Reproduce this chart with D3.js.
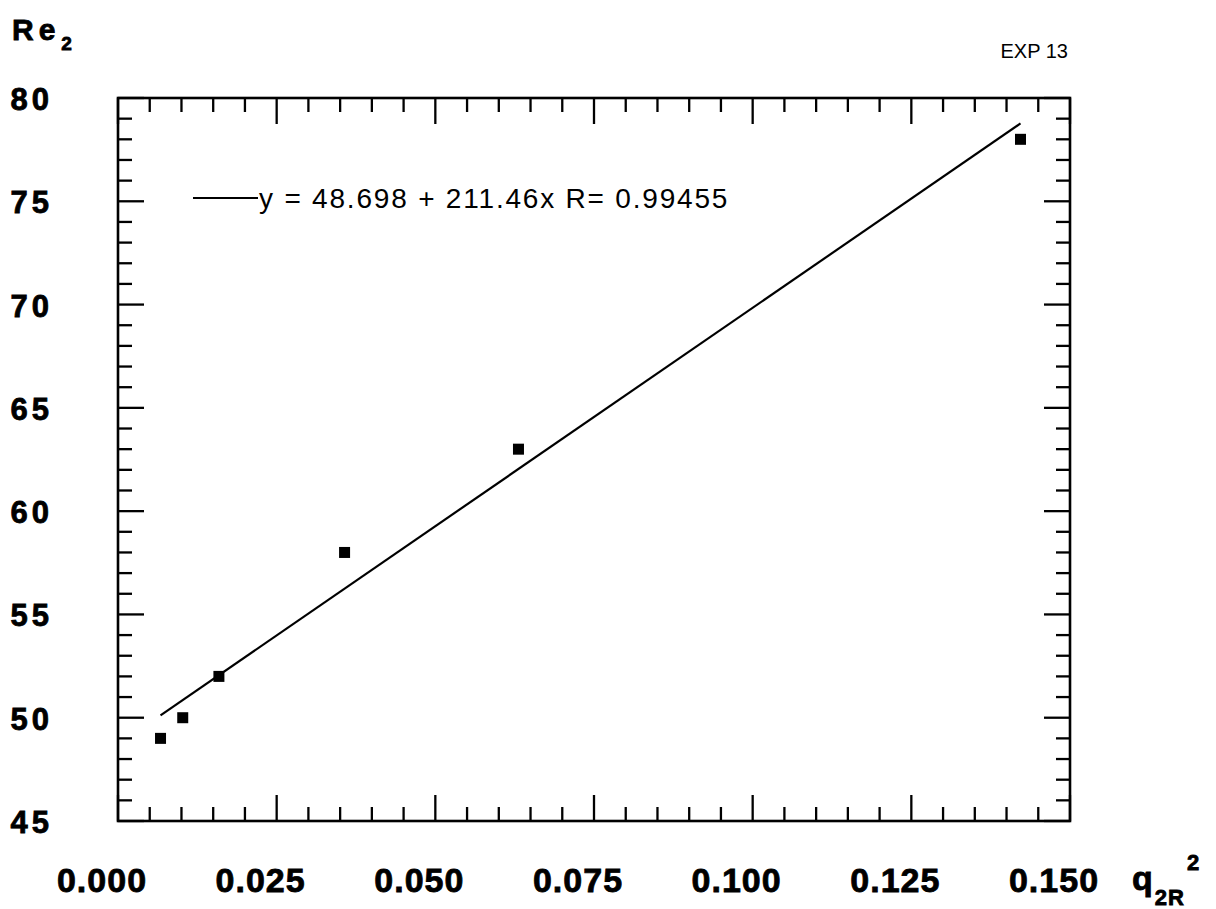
<!DOCTYPE html>
<html>
<head>
<meta charset="utf-8">
<script src="https://cdn.jsdelivr.net/npm/d3@7"></script>
<style>
  html, body { margin: 0; padding: 0; background: #fff; }
  svg { display: block; }
  text { fill: #000; font-family: "Liberation Sans", Arial, Helvetica, sans-serif; }
  .heavy { stroke: #000; stroke-width: 0.8px; }
</style>
</head>
<body>
<svg id="chart" width="1216" height="909"></svg>
<script>
// Measured points: q_2R^2 against Re_2 (EXP 13)
const qValues  = [0.0067, 0.0102, 0.0159, 0.0357, 0.0631, 0.1422];
const reValues = [49, 50, 52, 58, 63, 78];

// Least-squares fit reported in the legend
const fitIntercept = 48.698;
const fitSlope = 211.46;
const fitR = 0.99455;

const xTicks = [0, 0.025, 0.05, 0.075, 0.1, 0.125, 0.15];
const xTickLabels = ["0.000", "0.025", "0.050", "0.075", "0.100", "0.125", "0.150"];
const yTicks = [45, 50, 55, 60, 65, 70, 75, 80];
const yTickLabels = ["45", "50", "55", "60", "65", "70", "75", "80"];

const svg = d3.select("#chart");
const frame = { left: 118, right: 1070, top: 98, bottom: 821 };

const x = d3.scaleLinear().domain([0, 0.15]).range([frame.left, frame.right]);
const y = d3.scaleLinear().domain([45, 80]).range([frame.bottom, frame.top]);

const majorLen = 26, minorLen = 14;
const xMinor = d3.range(0, 0.1501, 0.005).filter(v => !xTicks.some(t => Math.abs(t - v) < 1e-9));
const yMinor = d3.range(45, 80.01, 1).filter(v => !yTicks.includes(v));

const g = svg.append("g");

// inward ticks on all four sides
function tickLinesX(vals, len) {
  [[frame.bottom, -1], [frame.top, 1]].forEach(([edge, dir]) => {
    g.selectAll(null).data(vals).enter().append("line")
      .attr("x1", d => x(d)).attr("x2", d => x(d))
      .attr("y1", edge).attr("y2", edge + dir * len)
      .attr("stroke", "#000").attr("stroke-width", 2.3);
  });
}
function tickLinesY(vals, len) {
  [[frame.left, 1], [frame.right, -1]].forEach(([edge, dir]) => {
    g.selectAll(null).data(vals).enter().append("line")
      .attr("y1", d => y(d)).attr("y2", d => y(d))
      .attr("x1", edge).attr("x2", edge + dir * len)
      .attr("stroke", "#000").attr("stroke-width", 2.3);
  });
}
tickLinesX(xTicks, majorLen);
tickLinesX(xMinor, minorLen);
tickLinesY(yTicks, majorLen);
tickLinesY(yMinor, minorLen);

// frame
g.append("rect")
  .attr("x", frame.left).attr("y", frame.top)
  .attr("width", frame.right - frame.left).attr("height", frame.bottom - frame.top)
  .attr("fill", "none").attr("stroke", "#000").attr("stroke-width", 2.6);

// tick labels
g.selectAll(null).data(xTicks).enter().append("text")
  .attr("class", "heavy")
  .attr("x", d => x(d) - 16).attr("y", 892)
  .attr("text-anchor", "middle")
  .style("font-size", "34px").style("font-weight", "bold").style("letter-spacing", "1px")
  .text((d, i) => xTickLabels[i]);

g.selectAll(null).data(yTicks).enter().append("text")
  .attr("class", "heavy")
  .attr("x", 53).attr("y", d => y(d) + 12)
  .attr("text-anchor", "end")
  .style("font-size", "31px").style("font-weight", "bold").style("letter-spacing", "4px")
  .text((d, i) => yTickLabels[i]);

// fit line across the measured range
const xMin = d3.min(qValues), xMax = d3.max(qValues);
g.append("line")
  .attr("x1", x(xMin)).attr("y1", y(fitIntercept + fitSlope * xMin))
  .attr("x2", x(xMax)).attr("y2", y(fitIntercept + fitSlope * xMax))
  .attr("stroke", "#000").attr("stroke-width", 2.2);

// data markers
const ms = 11;
g.selectAll(null).data(qValues).enter().append("rect")
  .attr("x", d => x(d) - ms / 2)
  .attr("y", (d, i) => y(reValues[i]) - ms / 2)
  .attr("width", ms).attr("height", ms)
  .attr("fill", "#000");

// legend
g.append("line")
  .attr("x1", 193).attr("x2", 258).attr("y1", 198).attr("y2", 198)
  .attr("stroke", "#000").attr("stroke-width", 2);
g.append("text")
  .attr("x", 259).attr("y", 208)
  .style("font-size", "28px").style("letter-spacing", "1.8px")
  .text(`y = ${fitIntercept} + ${fitSlope}x R= ${fitR}`);

// axis titles
const yt = svg.append("text").attr("class", "heavy").attr("x", 12).attr("y", 40)
  .style("font-size", "30px").style("font-weight", "bold");
yt.append("tspan").style("letter-spacing", "5px").text("Re");
yt.append("tspan").attr("dx", 1).attr("dy", 10).style("font-size", "19px").text("2");

const xt = svg.append("text").attr("class", "heavy").attr("x", 1132).attr("y", 890)
  .style("font-size", "34px").style("font-weight", "bold");
xt.append("tspan").text("q");
xt.append("tspan").attr("dx", 2).attr("dy", 15).style("font-size", "22px").style("letter-spacing", "1px").text("2R");
xt.append("tspan").attr("dx", 2).attr("dy", -35).style("font-size", "22px").text("2");

svg.append("text").attr("x", 1068).attr("y", 58)
  .attr("text-anchor", "end")
  .style("font-size", "20px")
  .text("EXP 13");
</script>
</body>
</html>
